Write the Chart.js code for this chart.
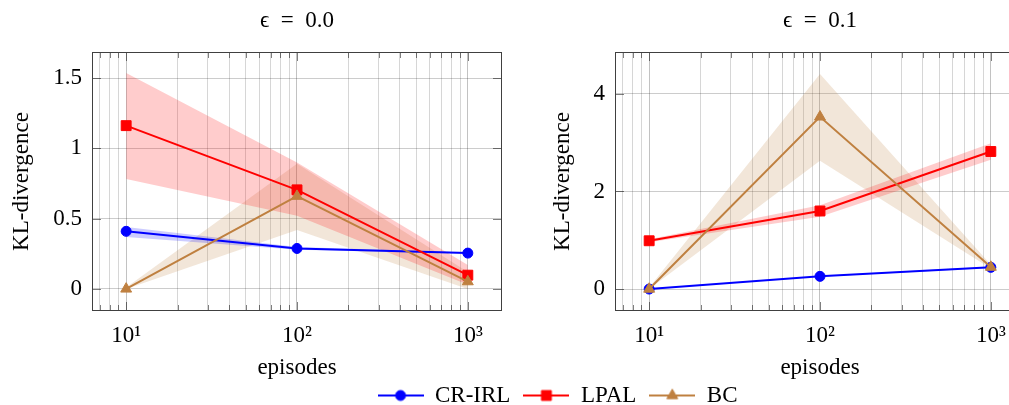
<!DOCTYPE html>
<html>
<head>
<meta charset="utf-8">
<script src="https://cdn.jsdelivr.net/npm/chart.js@4.4.0/dist/chart.umd.min.js"></script>
<style>
html, body { margin: 0; padding: 0; background: #fff; overflow: hidden; width: 1009px; height: 405px; }
canvas { position: absolute; }
#left { left: 0; top: 0; }
#right { left: 520px; top: 0; }
#legend { left: 53px; top: 371px; }
</style>
</head>
<body>
<canvas id="left" width="594" height="390"></canvas>
<canvas id="right" width="600" height="390"></canvas>
<canvas id="legend" width="1009" height="120"></canvas>
<script>
// x: episodes (log axis)
const episodes = [10, 100, 1000];
const xTickValues = [10, 100, 1000];
const xTickLabels = ['10¹', '10²', '10³'];

// epsilon = 0.0
const crirl0 = [0.41, 0.288, 0.255];
const crirl0Low = [0.37, 0.278, 0.25];
const crirl0High = [0.44, 0.298, 0.26];
const lpal0 = [1.162, 0.705, 0.098];
const lpal0Low = [0.783, 0.52, 0.03];
const lpal0High = [1.536, 0.9, 0.17];
const bc0 = [0.0, 0.66, 0.052];
const bc0Low = [0.0, 0.42, 0.0];
const bc0High = [0.01, 0.89, 0.12];
const yTicks0 = [0, 0.5, 1, 1.5];

// epsilon = 0.1
const crirl1 = [0.0, 0.26, 0.445];
const crirl1Low = [0.0, 0.25, 0.43];
const crirl1High = [0.01, 0.27, 0.46];
const lpal1 = [0.99, 1.6, 2.82];
const lpal1Low = [0.96, 1.48, 2.65];
const lpal1High = [1.02, 1.72, 2.99];
const bc1 = [0.0, 3.53, 0.45];
const bc1Low = [0.0, 2.63, 0.42];
const bc1High = [0.03, 4.41, 0.5];
const yTicks1 = [0, 2, 4];

const seriesNames = ['CR-IRL', 'LPAL', 'BC'];

const FONT = 'Liberation Serif';
const COLORS = ['#0000ff', '#ff0000', '#bf8040'];
const BANDS = ['rgba(0,0,255,0.2)', 'rgba(255,0,0,0.2)', 'rgba(191,128,64,0.2)'];
const MARKERS = ['circle', 'rect', 'triangle'];
const RADII = [5, 7, 6.3];

function pts(ys) {
    return episodes.map((x, i) => ({ x: x, y: ys[i] }));
}

// 上下界之间填充
function bandSets(high, low, color) {
    return [
        { data: pts(high), borderColor: 'transparent', borderWidth: 0, pointRadius: 0, fill: false, order: 10 },
        { data: pts(low), borderColor: 'transparent', borderWidth: 0, pointRadius: 0, fill: '-1', backgroundColor: color, order: 10 }
    ];
}

function lineSet(i, ys) {
    return {
        label: seriesNames[i],
        data: pts(ys),
        borderColor: COLORS[i],
        backgroundColor: COLORS[i],
        borderWidth: 2,
        pointStyle: MARKERS[i],
        pointRadius: RADII[i],
        pointBorderWidth: 1,
        fill: false,
        tension: 0,
        order: 3 - i
    };
}

// box around the plot with inner tick marks
const frame = {
    id: 'frame',
    afterDraw(chart) {
        const { ctx, chartArea: a, scales } = chart;
        ctx.save();
        ctx.lineWidth = 1;
        ctx.strokeStyle = 'rgba(0,0,0,0.5)';
        ctx.beginPath();
        scales.x.ticks.forEach(t => {
            const px = Math.round(scales.x.getPixelForValue(t.value)) + 0.5;
            const len = xTickValues.includes(t.value) ? 9 : 6;
            ctx.moveTo(px, a.top); ctx.lineTo(px, a.top + len);
            ctx.moveTo(px, a.bottom); ctx.lineTo(px, a.bottom - len);
        });
        scales.y.ticks.forEach(t => {
            const py = Math.round(scales.y.getPixelForValue(t.value)) + 0.5;
            ctx.moveTo(a.left, py); ctx.lineTo(a.left + 9, py);
            ctx.moveTo(a.right, py); ctx.lineTo(a.right - 9, py);
        });
        ctx.stroke();
        ctx.strokeStyle = '#404040';
        ctx.strokeRect(a.left + 0.5, a.top + 0.5, a.right - a.left - 1, a.bottom - a.top - 1);
        ctx.restore();
    }
};

function makeChart(id, title, datasets, yMin, yMax, yTicks, yWidth, yTitlePad, padRight) {
    const font = { family: FONT, size: 23, weight: 'normal', lineHeight: 1.2 };
    return new Chart(document.getElementById(id), {
        type: 'line',
        data: { datasets: datasets },
        options: {
            responsive: false,
            animation: false,
            devicePixelRatio: 1,
            layout: { padding: { left: 0, right: padRight, top: 0, bottom: 0 } },
            plugins: {
                legend: { display: false },
                tooltip: { enabled: false },
                title: {
                    display: true,
                    fullSize: false,
                    text: title,
                    color: '#000',
                    font: font,
                    padding: { top: 7, bottom: 17.4 }
                }
            },
            scales: {
                x: {
                    type: 'logarithmic',
                    min: 6.31,
                    max: 1585,
                    afterBuildTicks: s => {
                        s.ticks = s.ticks.filter(t => {
                            const m = t.value / Math.pow(10, Math.floor(Math.log10(t.value) + 1e-9));
                            return Math.abs(m - Math.round(m)) < 1e-6;
                        });
                    },
                    afterFit: s => { s.height = 79; },
                    grid: {
                        drawTicks: false,
                        color: c => (c.tick && xTickValues.includes(c.tick.value)) ? 'rgba(0,0,0,0.24)' : 'rgba(0,0,0,0.16)'
                    },
                    border: { display: false },
                    ticks: {
                        autoSkip: false,
                        maxRotation: 0,
                        padding: 11,
                        color: '#000',
                        font: font,
                        callback: v => {
                            const i = xTickValues.indexOf(v);
                            return i >= 0 ? xTickLabels[i] : '';
                        }
                    },
                    title: { display: true, text: 'episodes', color: '#000', font: font, padding: { top: 0, bottom: 8 } }
                },
                y: {
                    min: yMin,
                    max: yMax,
                    afterBuildTicks: s => { s.ticks = yTicks.map(v => ({ value: v })); },
                    afterFit: s => { s.width = yWidth; },
                    grid: { drawTicks: false, color: 'rgba(0,0,0,0.2)' },
                    border: { display: false },
                    ticks: { padding: 10, color: '#000', font: font, callback: v => String(v) },
                    title: { display: true, text: 'KL-divergence', color: '#000', font: font, padding: { top: yTitlePad, bottom: 0 } }
                }
            }
        },
        plugins: [frame]
    });
}

makeChart('left', 'ϵ\u2002=\u20020.0', [
    ...bandSets(crirl0High, crirl0Low, BANDS[0]),
    ...bandSets(lpal0High, lpal0Low, BANDS[1]),
    ...bandSets(bc0High, bc0Low, BANDS[2]),
    lineSet(0, crirl0), lineSet(1, lpal0), lineSet(2, bc0)
], -0.157, 1.686, yTicks0, 92, 8, 92);

makeChart('right', 'ϵ\u2002=\u20020.1', [
    ...bandSets(crirl1High, crirl1Low, BANDS[0]),
    ...bandSets(lpal1High, lpal1Low, BANDS[1]),
    ...bandSets(bc1High, bc1Low, BANDS[2]),
    lineSet(0, crirl1), lineSet(1, lpal1), lineSet(2, bc1)
], -0.45, 4.86, yTicks1, 95, 29, 95);

// 图例: line + marker icons
function legendIcon(i) {
    const c = document.createElement('canvas');
    c.width = 46;
    c.height = 16;
    const g = c.getContext('2d');
    g.strokeStyle = COLORS[i];
    g.fillStyle = COLORS[i];
    g.lineWidth = 2;
    g.beginPath();
    g.moveTo(0, 8);
    g.lineTo(46, 8);
    g.stroke();
    g.lineWidth = 1;
    Chart.helpers.drawPoint(g, { pointStyle: MARKERS[i], radius: RADII[i], borderWidth: 1 }, 23, 8);
    return c;
}

new Chart(document.getElementById('legend'), {
    type: 'line',
    data: {
        labels: [],
        datasets: seriesNames.map((name, i) => ({
            label: name,
            data: [],
            borderColor: COLORS[i],
            backgroundColor: COLORS[i],
            pointStyle: legendIcon(i)
        }))
    },
    options: {
        responsive: false,
        animation: false,
        devicePixelRatio: 1,
        scales: { x: { display: false }, y: { display: false } },
        plugins: {
            tooltip: { enabled: false },
            legend: {
                position: 'top',
                labels: {
                    usePointStyle: true,
                    pointStyleWidth: 46,
                    padding: 13,
                    color: '#000',
                    font: { family: FONT, size: 23 }
                }
            }
        }
    }
});
</script>
</body>
</html>
